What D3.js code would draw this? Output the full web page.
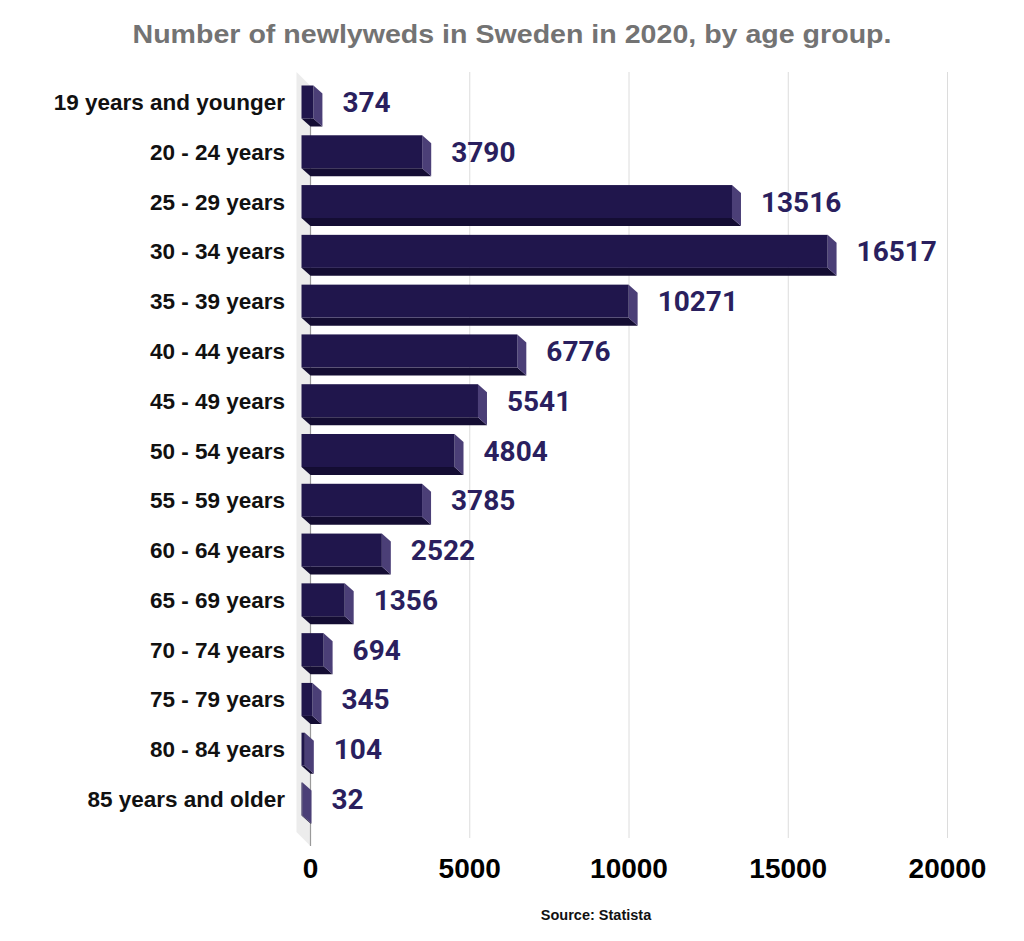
<!DOCTYPE html>
<html>
<head>
<meta charset="utf-8">
<script src="https://cdn.jsdelivr.net/npm/d3@7"></script>
<style>
  html, body { margin: 0; padding: 0; background: #ffffff; }
  svg { display: block; }
</style>
</head>
<body>
<svg id="chart" width="1024" height="941"></svg>
<script>
const categories = [
  "19 years and younger", "20 - 24 years", "25 - 29 years", "30 - 34 years",
  "35 - 39 years", "40 - 44 years", "45 - 49 years", "50 - 54 years",
  "55 - 59 years", "60 - 64 years", "65 - 69 years", "70 - 74 years",
  "75 - 79 years", "80 - 84 years", "85 years and older"
];
const values = [374, 3790, 13516, 16517, 10271, 6776, 5541, 4804, 3785, 2522, 1356, 694, 345, 104, 32];
const tickValues = [0, 5000, 10000, 15000, 20000];
const titleText = "Number of newlyweds in Sweden in 2020, by age group.";
const sourceText = "Source: Statista";

const svg = d3.select("#chart");
const x = d3.scaleLinear().domain([0, 20000]).range([310.5, 947.5]);
const y = d3.scaleBand().domain(categories).range([77.1, 823.9])
  .paddingInner(0.337).paddingOuter(0.337 / 2);
const dx = 9, dy = 8;
const x0 = x(0);

// title
svg.append("text").attr("x", 512).attr("y", 43).attr("text-anchor", "middle")
  .attr("font-family", "Liberation Sans, Arial, sans-serif").attr("font-weight", "bold")
  .attr("font-size", 26).attr("fill", "#737373")
  .attr("textLength", 759).attr("lengthAdjust", "spacingAndGlyphs").text(titleText);

// side wall
svg.append("polygon")
  .attr("points", [[x0 - 14, 72], [x0, 86], [x0, 846], [x0 - 14, 832]].map(p => p.join(",")).join(" "))
  .attr("fill", "#ececec");

// gridlines
svg.append("g").selectAll("line").data(tickValues.slice(1)).join("line")
  .attr("x1", d => x(d)).attr("x2", d => x(d)).attr("y1", 72).attr("y2", 838)
  .attr("stroke", "#dcdcdc").attr("stroke-width", 1);

// axis line
svg.append("line").attr("x1", x0).attr("x2", x0).attr("y1", 86).attr("y2", 846)
  .attr("stroke", "#9a9a9a").attr("stroke-width", 1.2);

// bars
const bars = svg.append("g").selectAll("g").data(values).join("g");
bars.each(function(v, i) {
  const g = d3.select(this);
  const yt = y(categories[i]);
  const yb = yt + y.bandwidth();
  const xv = x(v);
  const fx0 = x0 - dx, fx1 = xv - dx;
  g.append("polygon")
    .attr("points", [[fx0, yb], [fx1, yb], [xv, yb + dy], [x0, yb + dy]].map(p => p.join(",")).join(" "))
    .attr("fill", "#140d33");
  g.append("polygon")
    .attr("points", [[fx1, yt], [xv, yt + dy], [xv, yb + dy], [fx1, yb]].map(p => p.join(",")).join(" "))
    .attr("fill", "#4b3f77");
  g.append("rect").attr("x", fx0).attr("y", yt).attr("width", Math.max(0, fx1 - fx0))
    .attr("height", y.bandwidth()).attr("fill", "#20164c");
});

// value labels
svg.append("g").selectAll("text").data(values).join("text")
  .attr("x", d => x(d) + 20)
  .attr("y", (d, i) => y(categories[i]) + y.bandwidth() / 2 + 10)
  .attr("font-family", "Roboto, sans-serif").attr("font-weight", "bold")
  .attr("font-size", 28).attr("fill", "#2a1f5e").text(d => d);

// category labels
svg.append("g").selectAll("text").data(categories).join("text")
  .attr("x", 285).attr("y", d => y(d) + y.bandwidth() / 2 + 8)
  .attr("text-anchor", "end")
  .attr("font-family", "Liberation Sans, Arial, sans-serif").attr("font-weight", "bold")
  .attr("font-size", 22.5).attr("fill", "#111").text(d => d);

// x tick labels
svg.append("g").selectAll("text").data(tickValues).join("text")
  .attr("x", d => x(d)).attr("y", 878).attr("text-anchor", "middle")
  .attr("font-family", "Liberation Sans, Arial, sans-serif").attr("font-weight", "bold")
  .attr("font-size", 28).attr("fill", "#000").text(d => d);

// source
svg.append("text").attr("x", 596).attr("y", 920).attr("text-anchor", "middle")
  .attr("font-family", "Liberation Sans, Arial, sans-serif").attr("font-weight", "bold")
  .attr("font-size", 14.5).attr("fill", "#111").text(sourceText);
</script>
</body>
</html>
